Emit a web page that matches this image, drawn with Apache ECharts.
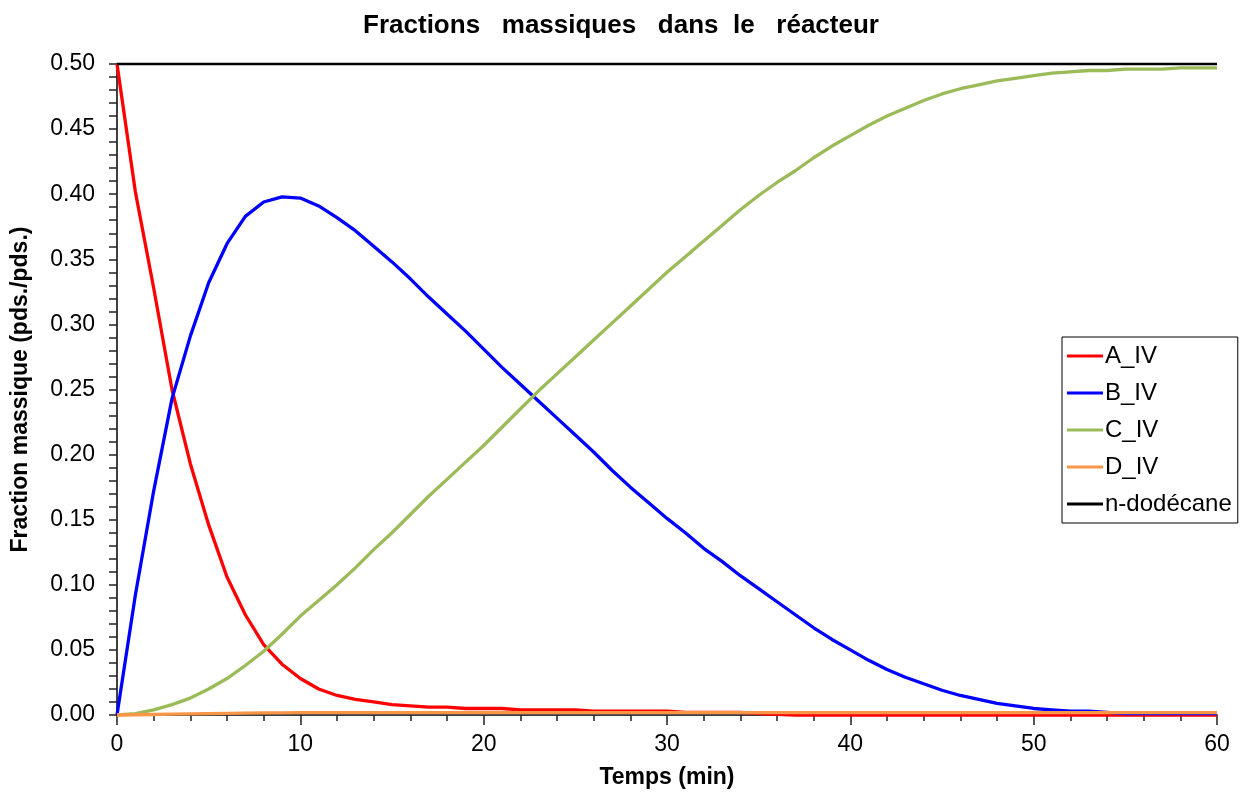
<!DOCTYPE html>
<html>
<head>
<meta charset="utf-8">
<script src="https://cdn.jsdelivr.net/npm/echarts@6/dist/echarts.min.js"></script>
<style>
html,body{margin:0;padding:0;background:#fff;}
#chart{width:1242px;height:794px;}
</style>
</head>
<body>
<div id="chart"></div>
<script>
// Time (min)
const times = [0,1,2,3,4,5,6,7,8,9,10,11,12,13,14,15,16,17,18,19,20,21,22,23,24,25,26,27,28,29,30,31,32,33,34,35,36,37,38,39,40,41,42,43,44,45,46,47,48,49,50,51,52,53,54,55,56,57,58,59,60];
const A_IV = [0.500,0.402,0.328,0.250,0.193,0.146,0.106,0.077,0.054,0.039,0.028,0.020,0.015,0.012,0.010,0.008,0.007,0.006,0.006,0.005,0.005,0.005,0.004,0.004,0.004,0.004,0.003,0.003,0.003,0.003,0.003,0.002,0.002,0.002,0.002,0.001,0.0005,0,0,0,0,0,0,0,0,0,0,0,0,0,0,0,0,0,0,0,0,0,0,0,0];
const B_IV = [0.000,0.092,0.172,0.243,0.291,0.332,0.362,0.383,0.394,0.398,0.397,0.391,0.382,0.372,0.360,0.348,0.335,0.321,0.308,0.295,0.281,0.267,0.254,0.241,0.228,0.215,0.202,0.188,0.175,0.163,0.151,0.140,0.128,0.118,0.107,0.097,0.087,0.077,0.067,0.058,0.050,0.042,0.035,0.029,0.024,0.019,0.015,0.012,0.009,0.007,0.005,0.004,0.003,0.003,0.002,0.001,0.001,0.001,0.001,0.001,0.001];
const C_IV = [0.000,0.001,0.004,0.008,0.013,0.020,0.028,0.038,0.049,0.062,0.076,0.088,0.100,0.113,0.127,0.140,0.154,0.168,0.181,0.194,0.207,0.221,0.235,0.249,0.262,0.275,0.288,0.301,0.314,0.327,0.340,0.352,0.364,0.376,0.388,0.399,0.409,0.418,0.428,0.437,0.445,0.453,0.460,0.466,0.472,0.477,0.481,0.484,0.487,0.489,0.491,0.493,0.494,0.495,0.495,0.496,0.496,0.496,0.497,0.497,0.497];
const D_IV = [0.0000,0.0002,0.0004,0.0006,0.0008,0.0010,0.0012,0.0014,0.0016,0.0017,0.0018,0.0018,0.0018,0.0018,0.0018,0.0018,0.0018,0.0018,0.0018,0.0018,0.0018,0.0018,0.0018,0.0018,0.0018,0.0018,0.0018,0.0018,0.0018,0.0018,0.0018,0.0018,0.0018,0.0018,0.0018,0.0018,0.0018,0.0018,0.0018,0.0018,0.0018,0.0018,0.0018,0.0018,0.0018,0.0018,0.0018,0.0018,0.0018,0.0018,0.0018,0.0018,0.0018,0.0018,0.0018,0.0018,0.0018,0.0018,0.0018,0.0018,0.0018];
const dodecane = [0.5,0.5,0.5,0.5,0.5,0.5,0.5,0.5,0.5,0.5,0.5,0.5,0.5,0.5,0.5,0.5,0.5,0.5,0.5,0.5,0.5,0.5,0.5,0.5,0.5,0.5,0.5,0.5,0.5,0.5,0.5,0.5,0.5,0.5,0.5,0.5,0.5,0.5,0.5,0.5,0.5,0.5,0.5,0.5,0.5,0.5,0.5,0.5,0.5,0.5,0.5,0.5,0.5,0.5,0.5,0.5,0.5,0.5,0.5,0.5,0.5];

const seriesNames = ['A_IV','B_IV','C_IV','D_IV','n-dodécane'];
const seriesValues = [A_IV, B_IV, C_IV, D_IV, dodecane];
const seriesColors = ['#FF0000','#0000FF','#9BBB59','#F79646','#000000'];

const FONT = 'Liberation Sans, Arial, sans-serif';

const chart = echarts.init(document.getElementById('chart'));
chart.setOption({
  animation: false,
  backgroundColor: '#ffffff',
  title: {
    text: 'Fractions   massiques   dans  le   réacteur',
    left: 'center',
    top: 8,
    textStyle: {fontFamily: FONT, fontSize: 26, fontWeight: 'bold', color: '#000'}
  },
  legend: {
    orient: 'vertical',
    left: 1062,
    top: 337,
    padding: [7, 6, 7, 5],
    itemGap: 13,
    itemWidth: 36,
    itemHeight: 3,
    icon: 'rect',
    backgroundColor: '#fff',
    borderColor: '#000',
    borderWidth: 1,
    textStyle: {fontFamily: FONT, fontSize: 24, color: '#000', padding: [0,0,0,-3]},
    data: seriesNames
  },
  grid: {left: 117, right: 25, top: 64, bottom: 77, containLabel: false},
  xAxis: {
    type: 'value',
    min: 0, max: 60, interval: 10,
    name: 'Temps (min)',
    nameLocation: 'middle',
    nameGap: 51,
    nameTextStyle: {fontFamily: FONT, fontSize: 23, fontWeight: 'bold', color: '#000'},
    axisLine: {show: true, onZero: false, lineStyle: {color: '#000', width: 1.5}},
    axisTick: {show: true, inside: false, length: 10, lineStyle: {color: '#222', width: 1.5}},
    minorTick: {show: true, splitNumber: 5, length: 6, lineStyle: {color: '#222', width: 1.5}},
    axisLabel: {fontFamily: FONT, fontSize: 23, color: '#000', margin: 18},
    splitLine: {show: false}
  },
  yAxis: {
    type: 'value',
    min: 0, max: 0.5, interval: 0.05,
    name: 'Fraction massique (pds./pds.)',
    nameLocation: 'middle',
    nameGap: 85,
    nameRotate: 90,
    nameTextStyle: {fontFamily: FONT, fontSize: 23, fontWeight: 'bold', color: '#000'},
    axisLine: {show: true, lineStyle: {color: '#000', width: 1.5}},
    axisTick: {show: true, inside: false, length: 8, lineStyle: {color: '#222', width: 1.5}},
    minorTick: {show: true, splitNumber: 5, length: 8, lineStyle: {color: '#222', width: 1.5}},
    axisLabel: {fontFamily: FONT, fontSize: 23, color: '#000', margin: 22,
      formatter: v => v.toFixed(2)},
    splitLine: {show: false}
  },
  series: seriesNames.map((name, i) => ({
    name: name,
    type: 'line',
    data: times.map((t, k) => [t, seriesValues[i][k]]),
    showSymbol: false,
    symbol: 'none',
    smooth: false,
    clip: false,
    color: seriesColors[i],
    lineStyle: {color: seriesColors[i], width: i === 4 ? 2.5 : 3.3},
    z: 2 + i
  }))
});
</script>
</body>
</html>
